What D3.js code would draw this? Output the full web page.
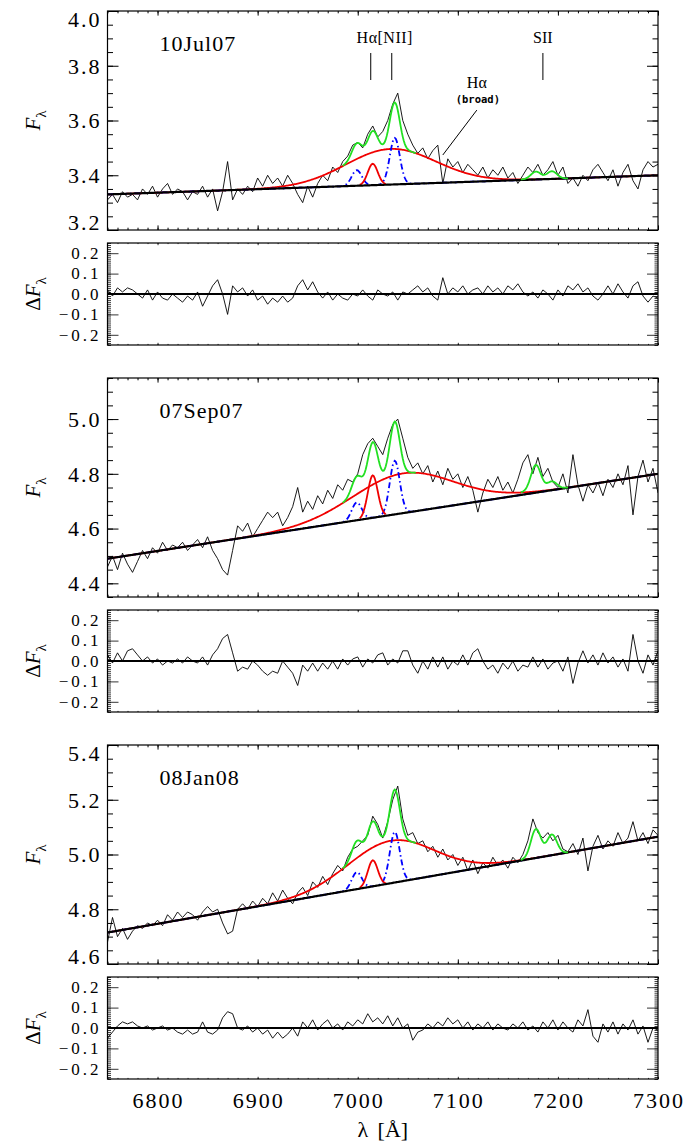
<!DOCTYPE html>
<html>
<head>
<meta charset="utf-8">
<script src="https://cdnjs.cloudflare.com/ajax/libs/d3/7.8.5/d3.min.js"></script>
<style>
  body { margin: 0; background: #fff; }
  svg { display: block; }
  text { font-family: "Liberation Serif", "DejaVu Serif", serif; fill: #000; }
</style>
</head>
<body>
<div id="chart"></div>
<script>
// sampling of the observed spectra (Angstrom)
const lamStart = 6750;
const lamStep = 5;

const epochs = ["10Jul07", "07Sep07", "08Jan08"];
const yDomains = [[3.2, 4.0], [4.35, 5.15], [4.6, 5.4]];
const yLabelVals = [[3.2, 3.4, 3.6, 3.8, 4.0], [4.4, 4.6, 4.8, 5.0], [4.6, 4.8, 5.0, 5.2, 5.4]];
const resLabelVals = [0.2, 0.1, 0.0, -0.1, -0.2];
const xLabelVals = [6800, 6900, 7000, 7100, 7200, 7300];

// observed flux, one value every 5 A from 6750 to 7300
const flux10Jul07 = [
  3.31, 3.33, 3.30, 3.34, 3.32, 3.33, 3.31, 3.35, 3.33, 3.36,
  3.32, 3.35, 3.37, 3.33, 3.35, 3.34, 3.31, 3.34, 3.33, 3.36,
  3.32, 3.35, 3.27, 3.34, 3.45, 3.31, 3.35, 3.33, 3.36, 3.34,
  3.39, 3.36, 3.40, 3.37, 3.39, 3.36, 3.40, 3.37, 3.33, 3.30,
  3.36, 3.32, 3.37, 3.40, 3.38, 3.43, 3.41, 3.45, 3.47, 3.51,
  3.52, 3.50, 3.55, 3.58, 3.54, 3.56, 3.60, 3.66, 3.70, 3.60,
  3.55, 3.51, 3.48, 3.50, 3.46, 3.49, 3.51, 3.37, 3.46, 3.43,
  3.45, 3.41, 3.44, 3.42, 3.40, 3.43, 3.39, 3.42, 3.40, 3.43,
  3.39, 3.41, 3.37, 3.40, 3.43, 3.41, 3.44, 3.40, 3.42, 3.45,
  3.40, 3.43, 3.37, 3.39, 3.36, 3.40, 3.38, 3.42, 3.44, 3.41,
  3.38, 3.42, 3.36, 3.41, 3.44, 3.38, 3.35, 3.42, 3.45, 3.43, 3.44
];
const flux07Sep07 = [
  4.46, 4.50, 4.45, 4.51, 4.47, 4.44, 4.48, 4.52, 4.49, 4.53,
  4.51, 4.55, 4.52, 4.54, 4.53, 4.55, 4.52, 4.54, 4.56, 4.53,
  4.57, 4.52, 4.49, 4.45, 4.43, 4.52, 4.61, 4.59, 4.62, 4.57,
  4.60, 4.63, 4.66, 4.64, 4.66, 4.61, 4.64, 4.68, 4.75, 4.66,
  4.70, 4.67, 4.72, 4.69, 4.74, 4.71, 4.76, 4.74, 4.78, 4.77,
  4.80, 4.87, 4.91, 4.93, 4.90, 4.87, 4.93, 4.98, 5.00, 4.93,
  4.86, 4.82, 4.84, 4.80, 4.83, 4.77, 4.81, 4.76, 4.82, 4.78,
  4.80, 4.75, 4.79, 4.74, 4.66, 4.73, 4.78, 4.75, 4.79, 4.74,
  4.77, 4.73, 4.78, 4.84, 4.87, 4.80, 4.86, 4.79, 4.82, 4.77,
  4.75, 4.80, 4.73, 4.87, 4.76, 4.70, 4.76, 4.73, 4.77, 4.72,
  4.78, 4.75, 4.80, 4.76, 4.83, 4.65, 4.79, 4.85, 4.77, 4.82, 4.73
];
const flux08Jan08 = [
  4.68, 4.77, 4.70, 4.73, 4.69, 4.72, 4.74, 4.73, 4.75, 4.74,
  4.76, 4.74, 4.78, 4.76, 4.79, 4.77, 4.79, 4.78, 4.76, 4.79,
  4.81, 4.79, 4.80, 4.75, 4.71, 4.72, 4.80, 4.82, 4.80, 4.83,
  4.81, 4.84, 4.82, 4.86, 4.83, 4.87, 4.84, 4.82, 4.86, 4.88,
  4.85, 4.90, 4.88, 4.92, 4.89, 4.93, 4.96, 4.94, 4.99, 5.02,
  5.03, 5.05, 5.07, 5.14, 5.11, 5.06, 5.12, 5.20, 5.25, 5.13,
  5.07, 5.08, 5.04, 5.05, 5.01, 5.03, 4.99, 5.02, 4.98, 5.00,
  4.96, 4.99, 4.94, 4.98, 4.93, 4.97, 4.95, 4.99, 4.96, 4.98,
  4.95, 4.99, 4.97, 5.00, 5.05, 5.13, 5.08, 5.06, 5.08, 5.05,
  5.07, 5.02, 5.01, 5.04, 5.00, 5.06, 4.94, 5.03, 5.07, 5.02,
  5.05, 5.03, 5.08, 5.04, 5.06, 5.12, 5.05, 5.08, 5.04, 5.09, 5.07
];

// residuals (model - data), same sampling
const resid10Jul07 = [
  0.02, -0.01, 0.03, 0.01, 0.03, 0.02, 0.00, -0.02, 0.02, -0.03,
  0.01, -0.02, -0.03, 0.00, -0.02, -0.04, -0.01, -0.03, 0.01, -0.06,
  -0.01, 0.04, 0.07, 0.00, -0.10, 0.04, 0.01, 0.03, -0.01, 0.02,
  -0.03, -0.01, -0.05, -0.02, -0.04, -0.01, -0.04, -0.02, 0.04, 0.07,
  0.02, 0.06, 0.01, -0.02, 0.01, -0.03, 0.00, -0.02, -0.03, 0.00,
  -0.01, 0.02, -0.01, -0.03, 0.02, 0.00, -0.01, 0.01, -0.03, 0.01,
  0.00, 0.02, 0.04, 0.01, 0.03, -0.01, -0.03, 0.08, 0.00, 0.03,
  0.01, 0.04, 0.00, 0.02, 0.03, 0.00, 0.04, 0.01, 0.03, 0.00,
  0.04, 0.02, 0.05, 0.01, -0.01, 0.01, -0.02, 0.02, 0.00, -0.03,
  0.02, -0.01, 0.04, 0.02, 0.05, 0.01, 0.03, -0.01, -0.03, 0.00,
  0.04, 0.00, 0.05, 0.01, -0.02, 0.04, 0.06, -0.01, -0.04, -0.01, -0.02
];
const resid07Sep07 = [
  0.03, -0.01, 0.04, 0.00, 0.05, 0.06, 0.03, 0.00, 0.02, -0.01,
  0.01, -0.02, 0.00, -0.01, 0.01, -0.01, 0.02, 0.00, -0.01, 0.02,
  -0.02, 0.03, 0.06, 0.11, 0.13, 0.04, -0.05, -0.03, -0.04, 0.00,
  -0.02, -0.05, -0.07, -0.05, -0.06, 0.00, -0.03, -0.06, -0.12, -0.02,
  -0.05, -0.01, -0.05, -0.01, -0.04, 0.00, -0.04, 0.01, -0.02, 0.01,
  0.02, -0.03, 0.01, -0.01, 0.03, 0.04, -0.02, 0.01, -0.01, 0.05,
  0.05, -0.02, -0.06, 0.00, -0.04, 0.02, -0.03, 0.02, -0.04, 0.00,
  -0.02, 0.03, -0.02, 0.04, 0.06, 0.00, -0.04, -0.02, -0.06, -0.01,
  -0.04, 0.00, -0.05, -0.02, -0.03, 0.02, -0.03, 0.01, -0.04, -0.01,
  0.00, -0.05, 0.02, -0.11, -0.01, 0.05, -0.01, 0.03, -0.02, 0.04,
  -0.01, 0.02, -0.03, 0.01, -0.05, 0.13, 0.00, -0.06, 0.03, -0.02, 0.05
];
const resid08Jan08 = [
  -0.05, -0.02, 0.01, 0.03, 0.02, 0.03, 0.01, 0.00, 0.01, -0.01,
  0.00, 0.01, -0.01, 0.00, -0.02, -0.03, -0.01, -0.03, -0.02, 0.03,
  -0.02, -0.03, -0.01, 0.05, 0.08, 0.07, 0.00, -0.01, 0.01, -0.02,
  0.00, -0.03, -0.01, -0.05, -0.02, -0.05, -0.03, 0.00, -0.04, 0.03,
  0.00, 0.04, -0.01, 0.02, 0.04, 0.00, 0.02, -0.01, 0.03, 0.01,
  0.04, 0.02, 0.07, 0.03, 0.05, 0.02, 0.06, 0.01, 0.05, 0.00,
  0.02, -0.06, -0.02, -0.01, 0.02, 0.00, 0.03, 0.01, 0.05, 0.02,
  0.04, 0.00, 0.03, -0.01, 0.02, 0.00, 0.03, -0.01, 0.02, 0.00,
  -0.01, 0.02, 0.00, 0.03, -0.01, 0.01, -0.02, 0.03, 0.00, 0.04,
  -0.01, 0.03, 0.00, -0.02, 0.04, 0.01, 0.09, -0.04, -0.07, 0.02,
  -0.02, 0.03, -0.03, 0.02, -0.01, 0.04, -0.03, 0.01, -0.07, 0.00, -0.01
];
const fluxes = [flux10Jul07, flux07Sep07, flux08Jan08];
const resids = [resid10Jul07, resid07Sep07, resid08Jan08];

// fit components per epoch
const contAt6750 = [3.33, 4.49, 4.715];
const contAt7300 = [3.40, 4.80, 5.065];
const broadCenter = [7033, 7045, 7033];
const broadAmp = [0.13, 0.145, 0.155];
const broadSigma = [45, 50, 43];
// narrow lines: Ha, [NII]6548, [NII]6583, SII 6716, SII 6731
const narrowCenter = [7015, 6999, 7037, 7178, 7194];
const narrowSigma = 5;
const narrowAmp = [
  [0.078, 0.057, 0.17, 0.028, 0.028],
  [0.155, 0.065, 0.196, 0.097, 0.03],
  [0.095, 0.062, 0.185, 0.105, 0.075]
];
const greenWindows = [[6985, 7058], [7163, 7210]];
const haNarrowWindow = [7002, 7028];

// line identifications (top panel)
const markerLam = [7013, 7034, 7185];

const W = 689, H = 1142;
const left = 107.5, right = 658;
const mainTops = [11, 378, 745];
const mainH = 219, resGap = 13, resH = 102;

const svg = d3.select("#chart").append("svg").attr("width", W).attr("height", H);

const x = d3.scaleLinear().domain([6750, 7300]).range([left, right]);
const grid = d3.range(6750, 7300.01, 1);

function cont(k, l) {
  return contAt6750[k] + (contAt7300[k] - contAt6750[k]) * (l - 6750) / 550;
}
function gauss(a, c, s, l) {
  return a * Math.exp(-((l - c) * (l - c)) / (2 * s * s));
}
function broad(k, l) {
  return gauss(broadAmp[k], broadCenter[k], broadSigma[k], l);
}
function narrow(k, j, l) {
  return gauss(narrowAmp[k][j], narrowCenter[j], narrowSigma, l);
}

function stepTicks(dom, step) {
  const a = Math.ceil(dom[0] / step - 1e-6), b = Math.floor(dom[1] / step + 1e-6);
  return d3.range(a, b + 1).map(i => +(i * step).toFixed(4));
}

function frameTicks(g, y, top, h, yMinor, yMajor, lens) {
  const xMinor = d3.range(6750, 7301, 10);
  const xMajor = d3.range(6800, 7301, 100);
  const yMin = stepTicks(y.domain(), yMinor);
  const yMaj = stepTicks(y.domain(), yMajor);
  const defs = [
    [d3.axisBottom(x), `translate(0,${top + h})`, xMinor, lens.xm],
    [d3.axisBottom(x), `translate(0,${top + h})`, xMajor, lens.xM],
    [d3.axisTop(x), `translate(0,${top})`, xMinor, lens.xm],
    [d3.axisTop(x), `translate(0,${top})`, xMajor, lens.xM],
    [d3.axisLeft(y), `translate(${left},0)`, yMin, lens.ym],
    [d3.axisLeft(y), `translate(${left},0)`, yMaj, lens.yM],
    [d3.axisRight(y), `translate(${right},0)`, yMin, lens.ym],
    [d3.axisRight(y), `translate(${right},0)`, yMaj, lens.yM]
  ];
  defs.forEach(([ax, tr, vals, len]) => {
    const a = g.append("g").attr("transform", tr)
      .call(ax.tickValues(vals).tickSizeInner(-len).tickSizeOuter(0).tickFormat(""));
    a.select(".domain").remove();
    a.selectAll("line").attr("stroke", "#000").attr("stroke-width", lens.w);
  });
  g.append("rect")
    .attr("x", left).attr("y", top)
    .attr("width", right - left).attr("height", h)
    .attr("fill", "none").attr("stroke", "#000").attr("stroke-width", 1.2);
}

function yTitle(g, cx, cy, delta) {
  const t = g.append("text")
    .attr("transform", `translate(${cx},${cy}) rotate(-90)`)
    .attr("text-anchor", "middle")
    .style("font-size", "21px");
  if (delta) t.append("tspan").text("\u0394");
  t.append("tspan").style("font-style", "italic").text("F");
  t.append("tspan").attr("dy", 6).style("font-size", "15px").text("\u03bb");
}

epochs.forEach((ep, k) => {
  const top = mainTops[k];
  const y = d3.scaleLinear().domain(yDomains[k]).range([top + mainH, top]);
  const rTop = top + mainH + resGap;
  const yr = d3.scaleLinear().domain([-0.25, 0.25]).range([rTop + resH, rTop]);
  const g = svg.append("g");

  const clipId = "clip" + k, rclipId = "rclip" + k;
  svg.append("clipPath").attr("id", clipId).append("rect")
    .attr("x", left).attr("y", top).attr("width", right - left).attr("height", mainH);
  svg.append("clipPath").attr("id", rclipId).append("rect")
    .attr("x", left).attr("y", rTop).attr("width", right - left).attr("height", resH);

  const pg = g.append("g").attr("clip-path", `url(#${clipId})`);
  const line = d3.line().x(d => x(d[0])).y(d => y(d[1]));

  const obs = fluxes[k].map((v, i) => [lamStart + i * lamStep, v]);
  pg.append("path").datum(obs).attr("d", line)
    .attr("fill", "none").attr("stroke", "#000").attr("stroke-width", 0.9);

  // broad Ha on top of continuum
  pg.append("path").datum(grid.map(l => [l, cont(k, l) + broad(k, l)])).attr("d", line)
    .attr("fill", "none").attr("stroke", "#f00000").attr("stroke-width", 1.8);

  // [NII] doublet
  pg.append("path").datum(grid.map(l => [l, cont(k, l) + narrow(k, 1, l) + narrow(k, 2, l)])).attr("d", line)
    .attr("fill", "none").attr("stroke", "#0000ff").attr("stroke-width", 1.8)
    .attr("stroke-dasharray", "6,3,1.5,3");

  // narrow Ha
  pg.append("path")
    .datum(grid.filter(l => l >= haNarrowWindow[0] && l <= haNarrowWindow[1]).map(l => [l, cont(k, l) + narrow(k, 0, l)]))
    .attr("d", line)
    .attr("fill", "none").attr("stroke", "#f00000").attr("stroke-width", 1.8);

  // continuum
  pg.append("path").datum(grid.map(l => [l, cont(k, l)])).attr("d", line)
    .attr("fill", "none").attr("stroke", "#000").attr("stroke-width", 2.2);

  // total model near the narrow lines
  greenWindows.forEach(w => {
    const pts = grid.filter(l => l >= w[0] && l <= w[1]).map(l => {
      let v = cont(k, l) + broad(k, l);
      for (let j = 0; j < narrowCenter.length; j++) v += narrow(k, j, l);
      return [l, v];
    });
    pg.append("path").datum(pts).attr("d", line)
      .attr("fill", "none").attr("stroke", "#22e022").attr("stroke-width", 1.8);
  });

  frameTicks(g, y, top, mainH, 0.05, 0.2, { xm: 2.3, xM: 4.6, ym: 5.5, yM: 11, w: 1 });

  yLabelVals[k].forEach(v => {
    const yy = Math.max(top + 8, Math.min(top + mainH - 8, y(v)));
    g.append("text").attr("x", left - 6).attr("y", yy).attr("dy", "0.36em")
      .attr("text-anchor", "end").style("font-size", "22px").style("letter-spacing", "2px")
      .text(v.toFixed(1));
  });

  g.append("text").attr("x", left + 52).attr("y", top + 40)
    .style("font-size", "22px").style("letter-spacing", "1px").text(ep);

  yTitle(g, 40, top + mainH / 2, false);

  // residual panel
  const rg = g.append("g").attr("clip-path", `url(#${rclipId})`);
  const rline = d3.line().x(d => x(d[0])).y(d => yr(d[1]));
  rg.append("path").datum(resids[k].map((v, i) => [lamStart + i * lamStep, v])).attr("d", rline)
    .attr("fill", "none").attr("stroke", "#000").attr("stroke-width", 0.9);
  rg.append("path").datum([[6750, 0], [7300, 0]]).attr("d", rline)
    .attr("fill", "none").attr("stroke", "#000").attr("stroke-width", 2.2);

  frameTicks(g, yr, rTop, resH, 0.01, 0.1, { xm: 1.1, xM: 2.2, ym: 3.5, yM: 11, w: 0.8 });

  resLabelVals.forEach(v => {
    g.append("text").attr("x", left - 6).attr("y", yr(v)).attr("dy", "0.34em")
      .attr("text-anchor", "end").style("font-size", "17px").style("letter-spacing", "3px")
      .text((v < 0 ? "\u2212" : "") + Math.abs(v).toFixed(1));
  });

  yTitle(g, 40, rTop + resH / 2, true);

  if (k === 0) {
    markerLam.forEach(l => {
      g.append("line").attr("x1", x(l)).attr("x2", x(l))
        .attr("y1", top + 42).attr("y2", top + 69)
        .attr("stroke", "#000").attr("stroke-width", 1);
    });
    g.append("text").attr("x", x(7027)).attr("y", top + 32).attr("text-anchor", "middle")
      .style("font-size", "16px").style("letter-spacing", "0.5px").text("H\u03b1[NII]");
    g.append("text").attr("x", x(7185)).attr("y", top + 32).attr("text-anchor", "middle")
      .style("font-size", "16px").text("SII");
    g.append("text").attr("x", x(7119)).attr("y", top + 77).attr("text-anchor", "middle")
      .style("font-size", "16px").text("H\u03b1");
    g.append("text").attr("x", x(7120)).attr("y", top + 92).attr("text-anchor", "middle")
      .style("font-family", "'DejaVu Sans Mono', monospace").style("font-weight", "bold")
      .style("font-size", "10.5px").text("(broad)");
    g.append("line")
      .attr("x1", x(7085)).attr("y1", y(3.474))
      .attr("x2", x(7119)).attr("y2", y(3.638))
      .attr("stroke", "#000").attr("stroke-width", 1);
  }

  if (k === epochs.length - 1) {
    xLabelVals.forEach(v => {
      g.append("text").attr("x", x(v) + 1).attr("y", rTop + resH + 29)
        .attr("text-anchor", "middle").style("font-size", "22px").style("letter-spacing", "2px")
        .text(v);
    });
    g.append("text").attr("x", (left + right) / 2).attr("y", rTop + resH + 58)
      .attr("text-anchor", "middle").style("font-size", "22px").style("word-spacing", "4px")
      .text("\u03bb [\u00c5]");
  }
});
</script>
</body>
</html>
